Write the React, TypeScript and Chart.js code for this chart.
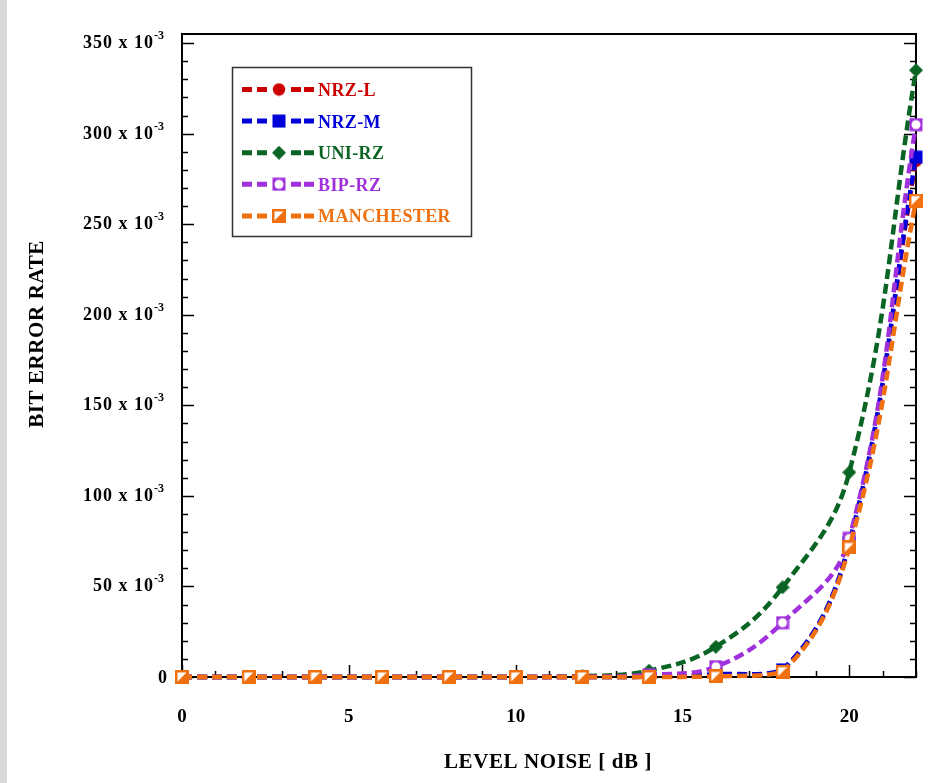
import { useEffect, useRef } from "react";
import { Chart, registerables } from "chart.js";

Chart.register(...registerables);

// ---- data (values in units of 10^-3) ----
const noiseDb = [0, 2, 4, 6, 8, 10, 12, 14, 16, 18, 20, 22];
const seriesNames = ["NRZ-L", "NRZ-M", "UNI-RZ", "BIP-RZ", "MANCHESTER"];
const nrzL = [0, 0, 0, 0, 0, 0, 0, 0.1, 1, 3.5, 73, 285];
const nrzM = [0, 0, 0, 0, 0, 0, 0, 0.1, 1.5, 4, 74, 287];
const uniRz = [0, 0, 0, 0, 0, 0, 0.4, 3.5, 16.7, 49.5, 113, 335];
const bipRz = [0, 0, 0, 0, 0, 0, 0, 1.2, 5.7, 30, 76.5, 305];
const manchester = [0, 0, 0, 0, 0, 0, 0, 0, 0.3, 2.9, 71.5, 263];
const seriesColors = ["#cc0000", "#0000d8", "#0a6424", "#a030dc", "#f0700f"];
const yTickValues = [0, 50, 100, 150, 200, 250, 300, 350];
const xTickValues = [0, 5, 10, 15, 20];
const xTitle = "LEVEL NOISE [ dB ]";
const yTitle = "BIT ERROR RATE";

type MarkerKind = "circle" | "square" | "diamond" | "openCircleSquare" | "halfSquare";
const markerKinds: MarkerKind[] = ["circle", "square", "diamond", "openCircleSquare", "halfSquare"];
const drawOrder = [3, 2, 4, 1, 0];

function makeMarker(kind: MarkerKind, color: string): HTMLCanvasElement {
  const c = document.createElement("canvas");
  const s = 14;
  c.width = s;
  c.height = s;
  const g = c.getContext("2d")!;
  g.fillStyle = color;
  if (kind === "circle") {
    g.beginPath();
    g.arc(7, 7, 6.2, 0, Math.PI * 2);
    g.fill();
  } else if (kind === "square") {
    g.fillRect(0.5, 0.5, 13, 13);
  } else if (kind === "diamond") {
    g.beginPath();
    g.moveTo(7, 0);
    g.lineTo(14, 7);
    g.lineTo(7, 14);
    g.lineTo(0, 7);
    g.closePath();
    g.fill();
  } else if (kind === "openCircleSquare") {
    g.fillRect(0.5, 0.5, 13, 13);
    g.fillStyle = "#ffffff";
    g.beginPath();
    g.arc(7, 7, 4.5, 0, Math.PI * 2);
    g.fill();
  } else {
    g.fillRect(0, 0, 14, 14);
    g.fillStyle = "#ffffff";
    g.beginPath();
    g.moveTo(2.5, 2.5);
    g.lineTo(11.5, 2.5);
    g.lineTo(2.5, 11.5);
    g.closePath();
    g.fill();
  }
  return c;
}

const SERIF = "'Liberation Serif', 'Times New Roman', serif";

export default function App() {
  const ref = useRef<HTMLCanvasElement | null>(null);

  useEffect(() => {
    document.body.style.margin = "0";
    const canvas = ref.current;
    if (!canvas) return;
    const allData = [nrzL, nrzM, uniRz, bipRz, manchester];
    const markers = seriesNames.map((_, i) => makeMarker(markerKinds[i], seriesColors[i]));

    const framePlugin = {
      id: "frame",
      beforeDraw(chart: any) {
        const ctx = chart.ctx;
        ctx.save();
        ctx.fillStyle = "#ffffff";
        ctx.fillRect(0, 0, chart.width, chart.height);
        ctx.fillStyle = "#d9d9d9";
        ctx.fillRect(0, 0, 7, chart.height);
        ctx.restore();
      },
      beforeDatasetsDraw(chart: any) {
        const ctx = chart.ctx;
        const { left, right, top, bottom } = chart.chartArea;
        const xs = chart.scales.x;
        const ys = chart.scales.y;
        ctx.save();
        ctx.strokeStyle = "#000";
        ctx.lineWidth = 1.5;
        for (let v = 0; v <= 350; v += 10) {
          const y = Math.round(ys.getPixelForValue(v)) + 0.5;
          const len = v % 50 === 0 ? 12 : 6;
          ctx.beginPath();
          ctx.moveTo(left, y);
          ctx.lineTo(left + len, y);
          ctx.moveTo(right, y);
          ctx.lineTo(right - len, y);
          ctx.stroke();
        }
        for (let v = 0; v <= 22; v += 1) {
          const x = Math.round(xs.getPixelForValue(v)) + 0.5;
          const len = v % 5 === 0 ? 12 : 6;
          ctx.beginPath();
          ctx.moveTo(x, bottom);
          ctx.lineTo(x, bottom - len);
          ctx.stroke();
        }
        ctx.lineWidth = 2;
        ctx.strokeRect(left, top, right - left, bottom - top);
        ctx.restore();
      },
      afterDraw(chart: any) {
        const ctx = chart.ctx;
        const xs = chart.scales.x;
        const ys = chart.scales.y;
        const { bottom } = chart.chartArea;
        ctx.save();
        ctx.fillStyle = "#000";
        for (const v of yTickValues) {
          const y = ys.getPixelForValue(v);
          ctx.font = `bold 18px ${SERIF}`;
          ctx.textBaseline = "alphabetic";
          if (v === 0) {
            ctx.textAlign = "right";
            ctx.fillText("0", 167, y + 5.5);
          } else {
            (ctx as any).letterSpacing = "1px";
            ctx.textAlign = "right";
            ctx.fillText(`${v} x 10`, 154, y + 5);
            (ctx as any).letterSpacing = "0px";
            ctx.font = `bold 12px ${SERIF}`;
            ctx.textAlign = "left";
            ctx.fillText("-3", 154, y - 4);
          }
        }
        (ctx as any).letterSpacing = "0px";
        ctx.font = `bold 19px ${SERIF}`;
        ctx.textAlign = "center";
        ctx.textBaseline = "alphabetic";
        for (const v of xTickValues) {
          ctx.fillText(String(v), xs.getPixelForValue(v), bottom + 45);
        }
        ctx.font = `bold 21px ${SERIF}`;
        (ctx as any).letterSpacing = "0.6px";
        ctx.fillText(xTitle, 548, 768);
        ctx.save();
        ctx.translate(43, 334);
        ctx.rotate(-Math.PI / 2);
        ctx.fillText(yTitle, 0, 0);
        ctx.restore();
        (ctx as any).letterSpacing = "0px";

        const bx = 232.5, by = 67.5, bw = 239, bh = 169;
        ctx.fillStyle = "#fff";
        ctx.fillRect(bx, by, bw, bh);
        ctx.strokeStyle = "#333";
        ctx.lineWidth = 1.5;
        ctx.strokeRect(bx, by, bw, bh);
        const dashes = [[242, 252], [257, 267], [291, 301], [304, 314]];
        seriesNames.forEach((name, i) => {
          const ry = 89.5 + i * 31.6;
          ctx.strokeStyle = seriesColors[i];
          ctx.lineWidth = 5;
          ctx.beginPath();
          for (const [a, b] of dashes) {
            ctx.moveTo(a, ry);
            ctx.lineTo(b, ry);
          }
          ctx.stroke();
          ctx.drawImage(markers[i], 279 - 7, ry - 7);
          ctx.fillStyle = seriesColors[i];
          ctx.font = `bold 18px ${SERIF}`;
          (ctx as any).letterSpacing = "0.4px";
          ctx.textAlign = "left";
          ctx.textBaseline = "alphabetic";
          ctx.fillText(name, 318, ry + 6.5);
          (ctx as any).letterSpacing = "0px";
        });
        ctx.restore();
      },
    };

    const chart = new Chart(canvas, {
      type: "line",
      data: {
        datasets: seriesNames.map((name, i) => ({
          label: name,
          data: noiseDb.map((x, j) => ({ x, y: allData[i][j] })),
          borderColor: seriesColors[i],
          backgroundColor: seriesColors[i],
          borderWidth: 4.5,
          borderDash: [10, 5],
          borderCapStyle: "butt",
          fill: false,
          tension: 0.4,
          pointStyle: markers[i] as any,
          pointRadius: 7,
          pointHoverRadius: 7,
          clip: false as any,
          order: drawOrder[i],
        })),
      },
      options: {
        animation: false,
        responsive: false,
        maintainAspectRatio: false,
        events: [],
        layout: { padding: { left: 182, right: 12, top: 34, bottom: 106 } },
        scales: {
          x: { type: "linear", min: 0, max: 22, display: false },
          y: { type: "linear", min: 0, max: 355, display: false },
        },
        plugins: { legend: { display: false }, tooltip: { enabled: false } },
      },
      plugins: [framePlugin],
    } as any);
    return () => chart.destroy();
  }, []);

  return <canvas ref={ref} width={928} height={783} style={{ display: "block" }} />;
}
